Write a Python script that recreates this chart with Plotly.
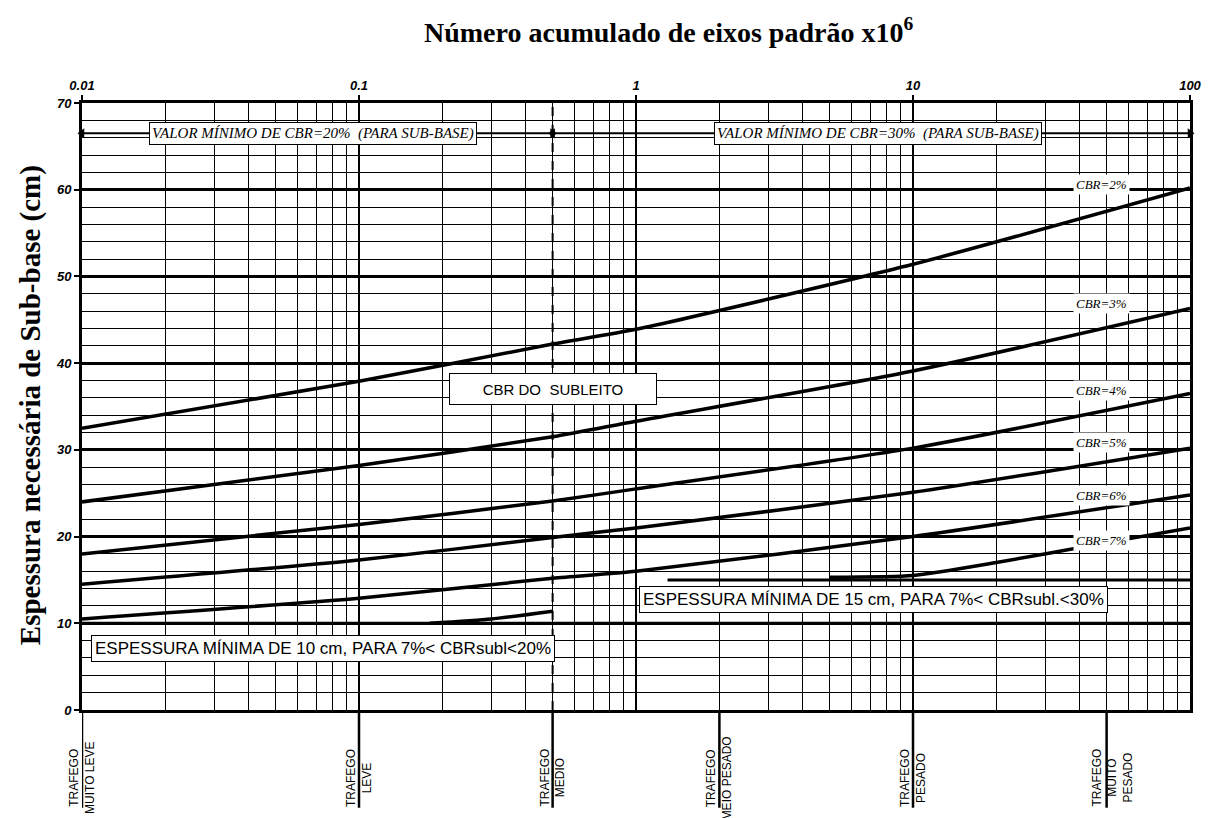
import math
import plotly.graph_objects as go

# ---------------- data ----------------
eixos = [0.01, 0.1, 0.5, 1, 10, 100]
cbr_2 = [32.5, 37.9, 42.2, 43.9, 51.4, 60.2]
cbr_3 = [24.0, 28.2, 31.5, 33.3, 39.1, 46.3]
cbr_4 = [18.0, 21.4, 24.1, 25.5, 30.2, 36.5]
cbr_5 = [14.5, 17.3, 19.9, 21.0, 25.1, 30.2]
cbr_6 = [10.5, 12.9, 15.2, 16.0, 20.0, 24.8]
eixos_7a = [0.18, 0.3, 0.5]
cbr_7a = [10.0, 10.5, 11.4]
eixos_7b = [5, 10, 20, 50, 100]
cbr_7b = [15.3, 15.5, 17.0, 19.3, 21.0]

curvas = [cbr_2, cbr_3, cbr_4, cbr_5, cbr_6]
rotulos_cbr = ["CBR=2%", "CBR=3%", "CBR=4%", "CBR=5%", "CBR=6%", "CBR=7%"]
y_rotulos_cbr = [60.6, 46.9, 36.9, 30.8, 24.7, 19.6]

esp_min_10 = 10
esp_min_15 = 15
eixos_15 = [1.3, 100]
limite_trafego = 0.5  # divisão entre CBR=20% e CBR=30%

trafego_x = [0.01, 0.1, 0.5, 2, 10, 50]
trafego_txt = ["TRAFEGO<br>MUITO LEVE", "TRAFEGO<br>LEVE", "TRAFEGO<br>MEDIO",
               "TRAFEGO<br>MEIO PESADO", "TRAFEGO<br>PESADO", "TRAFEGO<br>MUITO<br>PESADO"]

x_ticks = [0.01, 0.1, 1, 10, 100]
x_ticktext = ["0.01", "0.1", "1", "10", "100"]
x_minor = [k * 10 ** d for d in range(-2, 2) for k in range(2, 10)]

valor_txt = ["VALOR MÍNIMO DE CBR=20%  (PARA SUB-BASE)",
             "VALOR MÍNIMO DE CBR=30%  (PARA SUB-BASE)"]

# ---------------- figure ----------------
fig = go.Figure()

line_style = dict(color="black", width=3.5, shape="spline", smoothing=0.6)
for c in curvas:
    fig.add_trace(go.Scatter(x=eixos, y=c, mode="lines", line=line_style,
                             showlegend=False, hoverinfo="skip"))
fig.add_trace(go.Scatter(x=eixos_7a, y=cbr_7a, mode="lines", line=line_style,
                         showlegend=False, hoverinfo="skip"))
fig.add_trace(go.Scatter(x=eixos_7b, y=cbr_7b, mode="lines", line=line_style,
                         showlegend=False, hoverinfo="skip"))

# minimum thickness lines
fig.add_trace(go.Scatter(x=[eixos[0], eixos[-1]], y=[esp_min_10, esp_min_10], mode="lines",
                         line=dict(color="black", width=3), showlegend=False, hoverinfo="skip"))
fig.add_trace(go.Scatter(x=eixos_15, y=[esp_min_15, esp_min_15], mode="lines",
                         line=dict(color="black", width=3), showlegend=False, hoverinfo="skip"))

# arrows at top
y_seta = 66.5
for xa, xb in [(eixos[0], limite_trafego), (limite_trafego, eixos[-1])]:
    fig.add_trace(go.Scatter(x=[xa, xb], y=[y_seta, y_seta], mode="lines+markers",
                             line=dict(color="black", width=2),
                             marker=dict(symbol=["triangle-left", "triangle-right"], size=9, color="black"),
                             showlegend=False, hoverinfo="skip", cliponaxis=False))

L = math.log10

# dashed vertical at 0.5
fig.add_shape(type="line", xref="x", yref="y", x0=limite_trafego, x1=limite_trafego, y0=0, y1=70,
              line=dict(color="black", width=2, dash="dash"))

# traffic ticks below
for tx, tt in zip(trafego_x, trafego_txt):
    fig.add_shape(type="line", xref="x", yref="paper", x0=tx, x1=tx, y0=0, y1=-0.161,
                  line=dict(color="black", width=2.5))
    nlines = tt.count("<br>") + 1
    fig.add_annotation(x=L(tx), y=-0.112, xref="x", yref="paper", text=tt, showarrow=False,
                       textangle=-90, xanchor="center", yanchor="middle",
                       xshift=(6 if nlines == 3 else 0),
                       font=dict(family="Liberation Sans, Arial", size=12, color="black"))

# CBR labels on the right
for t, yv in zip(rotulos_cbr, y_rotulos_cbr):
    fig.add_annotation(x=L(48), y=yv, xref="x", yref="y", text=t, showarrow=False,
                       bgcolor="white", borderpad=2,
                       font=dict(family="Liberation Serif, Times New Roman", size=13,
                                 color="black", style="italic"))

# VALOR MÍNIMO boxes
for xv, t in zip([0.068, 7.5], valor_txt):
    fig.add_annotation(x=L(xv), y=y_seta, xref="x", yref="y", text=t, showarrow=False,
                       bgcolor="white", bordercolor="black", borderwidth=1, borderpad=2,
                       font=dict(family="Liberation Serif, Times New Roman", size=15,
                                 color="black", style="italic"))

# CBR DO SUBLEITO
fig.add_annotation(x=L(0.5), y=37.0, xref="x", yref="y", text="CBR DO  SUBLEITO", showarrow=False,
                   bgcolor="white", bordercolor="black", borderwidth=1, width=204, height=28,
                   font=dict(family="Liberation Sans, Arial", size=15, color="black"))

# ESPESSURA boxes
fig.add_annotation(x=L(0.0741), y=7.1, xref="x", yref="y",
                   text="ESPESSURA MÍNIMA DE 10 cm, PARA 7%< CBRsubl<20%", showarrow=False,
                   bgcolor="white", bordercolor="black", borderwidth=1, borderpad=3,
                   font=dict(family="Liberation Sans, Arial", size=17, color="black"))
fig.add_annotation(x=L(7.2), y=12.7, xref="x", yref="y",
                   text="ESPESSURA MÍNIMA DE 15 cm, PARA 7%< CBRsubl.<30%", showarrow=False,
                   bgcolor="white", bordercolor="black", borderwidth=1, borderpad=3,
                   font=dict(family="Liberation Sans, Arial", size=17, color="black"))

# titles
fig.add_annotation(x=0.529, y=1.12, xref="paper", yref="paper",
                   text="<b>Número acumulado de eixos padrão x10<sup>6</sup></b>", showarrow=False,
                   xanchor="center", yanchor="middle",
                   font=dict(family="Liberation Serif, Times New Roman", size=28, color="black"))
fig.add_annotation(x=-0.047, y=0.502, xref="paper", yref="paper",
                   text="<b>Espessura necessária de Sub-base (cm)</b>", showarrow=False,
                   textangle=-90, xanchor="center", yanchor="middle",
                   font=dict(family="Liberation Serif, Times New Roman", size=29, color="black"))

tickfont = dict(family="Liberation Sans, Arial", size=13, color="black", weight="bold", style="italic")

fig.update_layout(
    width=1215, height=818,
    margin=dict(l=74, r=33, t=95, b=116),
    paper_bgcolor="white", plot_bgcolor="white",
    xaxis=dict(type="log", range=[-2, 2], side="top",
               tickmode="array", tickvals=x_ticks, ticktext=x_ticktext,
               ticks="outside", ticklen=5, tickwidth=2, tickcolor="black",
               tickfont=tickfont,
               showgrid=True, gridcolor="black", gridwidth=2,
               minor=dict(tickmode="array", tickvals=x_minor, showgrid=True,
                          gridcolor="black", gridwidth=1.3, ticks=""),
               showline=True, linecolor="black", linewidth=3, mirror=True,
               zeroline=False),
    yaxis=dict(range=[0, 70], dtick=10, tick0=0,
               ticks="outside", ticklen=5, tickwidth=2, tickcolor="black",
               tickfont=tickfont,
               showgrid=True, gridcolor="black", gridwidth=2.5,
               minor=dict(dtick=2, showgrid=True, gridcolor="black", gridwidth=1.3, ticks=""),
               showline=True, linecolor="black", linewidth=3, mirror=True,
               zeroline=False),
)

fig.write_html("out.html")
